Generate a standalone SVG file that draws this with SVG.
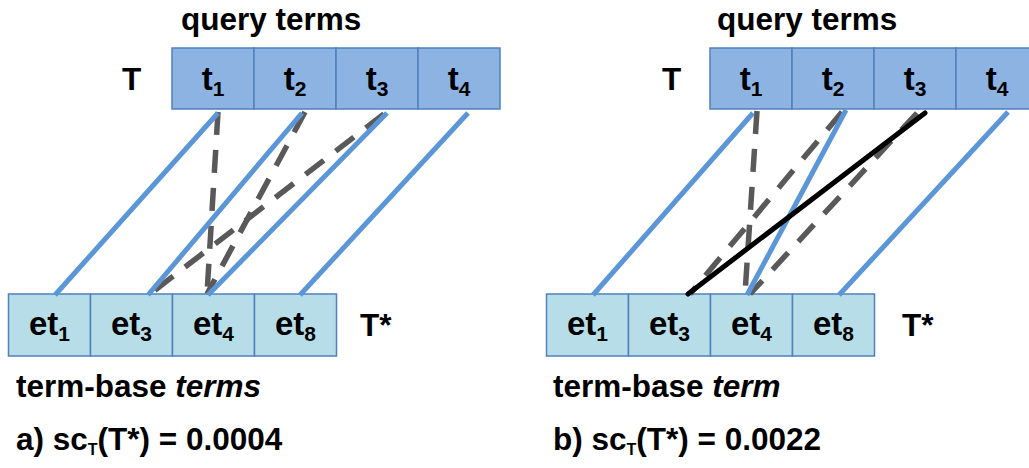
<svg xmlns="http://www.w3.org/2000/svg" width="1029" height="468" viewBox="0 0 1029 468">
<style>
text{font-family:"Liberation Sans",Arial,sans-serif;font-weight:bold;fill:#000}
.big{font-size:31.5px}
.cell{font-size:33px;text-anchor:middle}
.sub{font-size:21px}
.top{fill:#8DB3E2;stroke:#4F81BD;stroke-width:1.5}
.bot{fill:#B7DEE8;stroke:#4F81BD;stroke-width:1.5}
.blue{stroke:#5B96D8;stroke-width:5;fill:none}
.dash{stroke:#595959;stroke-width:5.5;stroke-dasharray:23 15;fill:none}
.black{stroke:#000;stroke-width:5;fill:none;stroke-linecap:round}
</style>
<rect width="1029" height="468" fill="#fff"/>

<!-- Left panel -->
<g id="left-labels">
<text class="big" x="181" y="30">query terms</text>
<text class="big" x="122" y="90">T</text>
<text class="big" x="360" y="336">T*</text>
<text class="big" x="16" y="397">term-base <tspan font-style="italic">terms</tspan></text>
<text class="big" x="16" y="450">a) sc<tspan font-size="16" dy="5">T</tspan><tspan dy="-5">(T*) = 0.0004</tspan></text>
</g>
<g id="left-T">
<rect class="top" x="172" y="48" width="82" height="61"/>
<rect class="top" x="254" y="48" width="82" height="61"/>
<rect class="top" x="336" y="48" width="82" height="61"/>
<rect class="top" x="418" y="48" width="82" height="61"/>
<text class="cell" x="213" y="90">t<tspan class="sub" dy="6">1</tspan></text>
<text class="cell" x="295" y="90">t<tspan class="sub" dy="6">2</tspan></text>
<text class="cell" x="377" y="90">t<tspan class="sub" dy="6">3</tspan></text>
<text class="cell" x="459" y="90">t<tspan class="sub" dy="6">4</tspan></text>
</g>
<g id="left-Tstar">
<rect class="bot" x="8.5" y="294" width="82" height="62"/>
<rect class="bot" x="90.5" y="294" width="82" height="62"/>
<rect class="bot" x="172.5" y="294" width="82" height="62"/>
<rect class="bot" x="254.5" y="294" width="82" height="62"/>
<text class="cell" x="49.5" y="335">et<tspan class="sub" dy="6">1</tspan></text>
<text class="cell" x="131.5" y="335">et<tspan class="sub" dy="6">3</tspan></text>
<text class="cell" x="213.5" y="335">et<tspan class="sub" dy="6">4</tspan></text>
<text class="cell" x="295.5" y="335">et<tspan class="sub" dy="6">8</tspan></text>
</g>
<g id="left-connectors">
<line class="dash" x1="218" y1="112" x2="207" y2="294"/>
<line class="dash" x1="305" y1="112" x2="207" y2="294"/>
<line class="dash" x1="384" y1="114" x2="150" y2="294"/>
<line class="blue" x1="218" y1="113" x2="55" y2="295"/>
<line class="blue" x1="302" y1="113" x2="148" y2="295"/>
<line class="blue" x1="387" y1="113" x2="208" y2="295"/>
<line class="blue" x1="468" y1="113" x2="300" y2="295"/>
</g>

<!-- Right panel -->
<g id="right-labels">
<text class="big" x="717" y="30">query terms</text>
<text class="big" x="662" y="90">T</text>
<text class="big" x="902" y="336">T*</text>
<text class="big" x="553" y="397">term-base <tspan font-style="italic">term</tspan></text>
<text class="big" x="553" y="450">b) sc<tspan font-size="16" dy="5">T</tspan><tspan dy="-5">(T*) = 0.0022</tspan></text>
</g>
<g id="right-T">
<rect class="top" x="710" y="48" width="82" height="61"/>
<rect class="top" x="792" y="48" width="82" height="61"/>
<rect class="top" x="874" y="48" width="82" height="61"/>
<rect class="top" x="956" y="48" width="82" height="61"/>
<text class="cell" x="751" y="90">t<tspan class="sub" dy="6">1</tspan></text>
<text class="cell" x="833" y="90">t<tspan class="sub" dy="6">2</tspan></text>
<text class="cell" x="915" y="90">t<tspan class="sub" dy="6">3</tspan></text>
<text class="cell" x="997" y="90">t<tspan class="sub" dy="6">4</tspan></text>
</g>
<g id="right-Tstar">
<rect class="bot" x="546.5" y="294" width="82" height="62"/>
<rect class="bot" x="628.5" y="294" width="82" height="62"/>
<rect class="bot" x="710.5" y="294" width="82" height="62"/>
<rect class="bot" x="792.5" y="294" width="82" height="62"/>
<text class="cell" x="587.5" y="335">et<tspan class="sub" dy="6">1</tspan></text>
<text class="cell" x="669.5" y="335">et<tspan class="sub" dy="6">3</tspan></text>
<text class="cell" x="751.5" y="335">et<tspan class="sub" dy="6">4</tspan></text>
<text class="cell" x="833.5" y="335">et<tspan class="sub" dy="6">8</tspan></text>
</g>
<g id="right-connectors">
<line class="dash" x1="757" y1="111" x2="745" y2="294"/>
<line class="dash" x1="842" y1="112" x2="690" y2="294"/>
<line class="dash" x1="917" y1="113" x2="750" y2="294"/>
<line class="blue" x1="753" y1="113" x2="593" y2="295"/>
<line class="blue" x1="846" y1="110" x2="747" y2="295"/>
<line class="blue" x1="1008" y1="112" x2="839" y2="295"/>
<line class="black" x1="925" y1="113" x2="688" y2="294"/>
</g>
</svg>
